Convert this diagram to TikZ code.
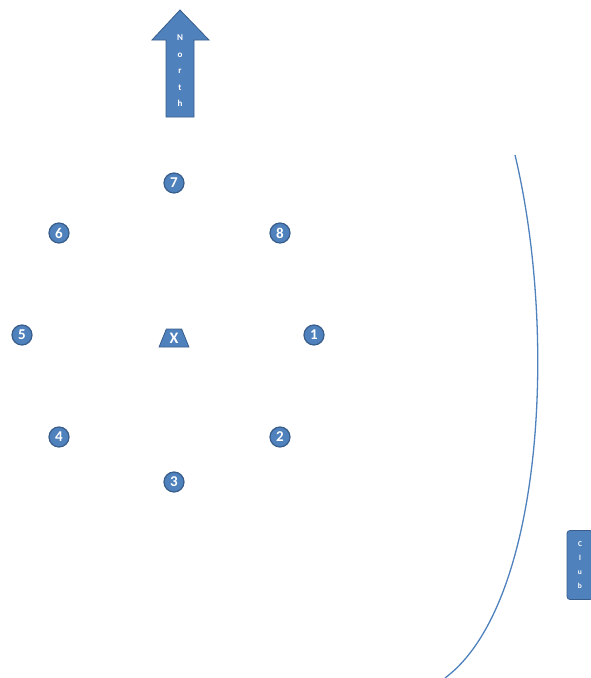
\documentclass[tikz,border=0pt]{standalone}
\usepackage{fontspec}
\setmainfont{Carlito}
\usetikzlibrary{shapes.geometric}
\definecolor{pinblue}{HTML}{4F81BD}
\definecolor{pinedge}{HTML}{385D8A}
\begin{document}
\begin{tikzpicture}[x=1pt, y=-1pt,
  pin/.style={circle, fill=pinblue, draw=pinedge, line width=1.2pt, inner sep=0pt,
              minimum size=20pt, text=white, font=\bfseries\fontsize{15}{15}\selectfont},
  flag/.style={fill=pinblue, draw=pinedge, line width=0.8pt},
  stack/.style={text=white, align=center, inner sep=0pt}
]
  \useasboundingbox (0,0) rectangle (590,678);

  % north arrow
  \draw[flag] (166,117) -- (166,40) -- (152,40) -- (180,10) -- (209,40)
              -- (194,40) -- (194,117) -- cycle;
  \node[stack, font=\bfseries\fontsize{9}{16.5}\selectfont] (north) at (180,71) {N\\o\\r\\t\\h};

  % pins
  \node[pin] (p7) at (174,183) {7};
  \node[pin] (p6) at (59,233)  {6};
  \node[pin] (p8) at (280,233) {8};
  \node[pin] (p5) at (22,335)  {5};
  \node[pin] (p1) at (314,335) {1};
  \node[pin] (p4) at (59,437)  {4};
  \node[pin] (p2) at (280,437) {2};
  \node[pin] (p3) at (174,482) {3};

  % centre
  \node[trapezium, trapezium angle=68, flag, minimum width=25pt, minimum height=18pt,
        inner sep=0pt, text=white, font=\bfseries\fontsize{16}{16}\selectfont] (cx) at (174,338) {X};

  % club
  \node[flag, rounded corners=3pt, minimum width=26pt, minimum height=69pt,
        stack, font=\bfseries\fontsize{7.5}{14}\selectfont] (club) at (580,565) {C\\l\\u\\b};

  % line
  \coordinate (top) at (515,155);
  \coordinate (bot) at (445,678);
  \draw[pinblue, line width=1.3pt] (top) .. controls (558,335) and (543,605) .. (bot);
\end{tikzpicture}
\end{document}
